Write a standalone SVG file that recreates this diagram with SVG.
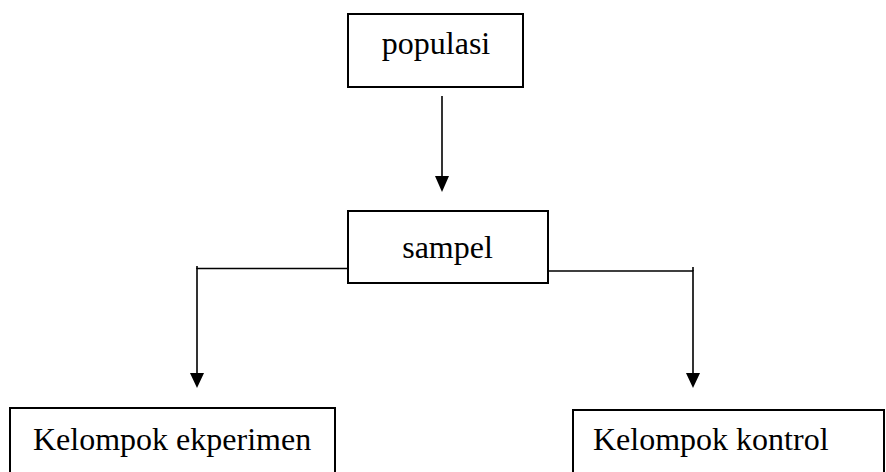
<svg xmlns="http://www.w3.org/2000/svg" width="886" height="472" viewBox="0 0 886 472">
<style>
.box{fill:#fff;stroke:#000;stroke-width:2}
.lbl{font-family:"Liberation Serif","Times New Roman",serif;font-size:32px;fill:#000}
.ln{fill:none;stroke:#000;stroke-width:1.6}
.ah{fill:#000;stroke:none}
</style>
<rect width="886" height="472" fill="#fff"/>
<g id="connectors">
<line class="ln" x1="442" y1="96" x2="442" y2="178"/>
<polygon class="ah" points="435,176 449,176 442,192"/>
<polyline class="ln" points="348,268.5 197,268.5 197,374"/>
<line class="ln" x1="197" y1="266" x2="197" y2="269"/>
<polygon class="ah" points="190,373 204,373 197,388"/>
<polyline class="ln" points="546,271 693,271 693,374"/>
<line class="ln" x1="693" y1="267" x2="693" y2="271"/>
<polygon class="ah" points="686,373 700,373 693,388"/>
</g>
<g id="populasi">
<rect class="box" x="348" y="14" width="175" height="73"/>
<text class="lbl" x="436" y="54" text-anchor="middle">populasi</text>
</g>
<g id="sampel">
<rect class="box" x="348" y="211" width="200" height="72"/>
<text class="lbl" x="447.5" y="258" text-anchor="middle">sampel</text>
</g>
<g id="kelompok-ekperimen">
<rect class="box" x="10" y="408" width="325" height="80"/>
<text class="lbl" x="33" y="450">Kelompok ekperimen</text>
</g>
<g id="kelompok-kontrol">
<rect class="box" x="573" y="410" width="311" height="80"/>
<text class="lbl" x="593" y="450">Kelompok kontrol</text>
</g>
</svg>
